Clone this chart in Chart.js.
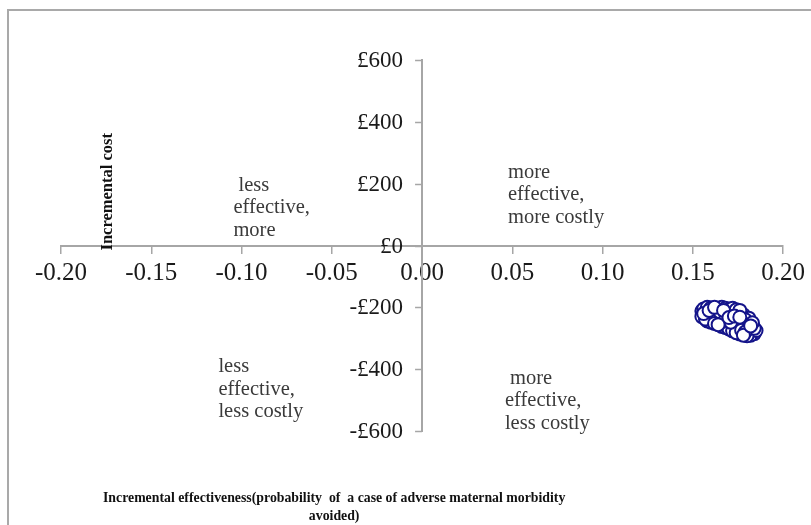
<!DOCTYPE html>
<html>
<head>
<meta charset="utf-8">
<script src="https://cdn.jsdelivr.net/npm/chart.js@4/dist/chart.umd.min.js"></script>
<style>
  body { margin: 0; background: #fff; }
  #frame { position: absolute; left: 7px; top: 9px; width: 900px; height: 600px; border: 2px solid #a9a9a9; }
  #myChart { position: absolute; left: 0; top: 0; }
</style>
</head>
<body>
<div id="frame"></div>
<canvas id="myChart" width="811" height="525"></canvas>
<script>
// incremental effectiveness / incremental cost pairs (bootstrap cloud, unsorted)
const effect = [0.155, 0.158, 0.161, 0.164, 0.166, 0.169, 0.172, 0.175, 0.178, 0.181,
  0.184, 0.157, 0.160, 0.163, 0.166, 0.168, 0.171, 0.174, 0.177, 0.180,
  0.183, 0.156, 0.159, 0.162, 0.165, 0.168, 0.170, 0.173, 0.176, 0.179,
  0.182, 0.155, 0.158, 0.161, 0.164, 0.167, 0.170, 0.172, 0.175, 0.178,
  0.181, 0.185, 0.158, 0.160, 0.163, 0.166, 0.169, 0.172, 0.174, 0.177,
  0.180, 0.184, 0.157, 0.160, 0.162, 0.165, 0.168, 0.171, 0.174, 0.176,
  0.179, 0.183, 0.156, 0.159, 0.162, 0.164, 0.167, 0.170, 0.173, 0.176,
  0.178, 0.182];
const cost = [-212, -226, -214, -204, -262, -255, -262, -218, -224, -235,
  -285, -212, -222, -210, -200, -265, -216, -255, -248, -252,
  -280, -205, -235, -228, -234, -203, -270, -242, -286, -240,
  -290, -230, -244, -238, -222, -226, -206, -276, -268, -262,
  -270, -275, -200, -248, -242, -246, -220, -203, -282, -274,
  -292, -268, -238, -202, -252, -215, -240, -248, -208, -210,
  -280, -250, -220, -210, -200, -256, -210, -233, -228, -232,
  -290, -260];

const xTicks = [-0.2, -0.15, -0.1, -0.05, 0, 0.05, 0.1, 0.15, 0.2];
const yTicks = [-600, -400, -200, 0, 200, 400, 600];

const quadrantLabels = [
  { x: -0.1045, y: 194, lines: [" less", "effective,", "more"] },
  { x: 0.0476, y: 236, lines: ["more", "effective,", "more costly"] },
  { x: -0.1128, y: -392, lines: ["less", "effective,", "less costly"] },
  { x: 0.0459, y: -430, lines: [" more", "effective,", "less costly"] },
];
const yTitle = "Incremental cost";
const xTitle = ["Incremental effectiveness(probability  of  a case of adverse maternal morbidity", "avoided)"];

const axisColor = "#a6a6a6";
const serif = "'Liberation Serif', 'Times New Roman', serif";

const points = effect.map((x, i) => ({ x, y: cost[i] }));

const textPlugin = {
  id: "quadrantText",
  afterDraw(chart) {
    const { ctx, scales, chartArea } = chart;
    const sx = scales.x, sy = scales.y;
    const axisX = sx.getPixelForValue(0);
    ctx.save();

    // y ticks and labels, left of the axis
    ctx.strokeStyle = axisColor;
    ctx.lineWidth = 1.5;
    ctx.fillStyle = "#1a1a1a";
    ctx.font = "23px " + serif;
    ctx.textAlign = "right";
    ctx.textBaseline = "middle";
    yTicks.forEach(v => {
      const py = Math.round(sy.getPixelForValue(v)) + 0.5;
      ctx.beginPath();
      ctx.moveTo(axisX - 7, py);
      ctx.lineTo(axisX, py);
      ctx.stroke();
      ctx.fillText(v < 0 ? "-£" + -v : "£" + v, axisX - 19, py);
    });

    ctx.fillStyle = "#3a3a3a";
    ctx.font = "20.5px " + serif;
    ctx.textAlign = "left";
    quadrantLabels.forEach(q => {
      const px = sx.getPixelForValue(q.x);
      const py = sy.getPixelForValue(q.y);
      q.lines.forEach((line, i) => ctx.fillText(line, px, py + i * 22.5));
    });

    // rotated cost title
    ctx.fillStyle = "#111";
    ctx.font = "bold 16.5px " + serif;
    ctx.translate(sx.getPixelForValue(-0.1742), sy.getPixelForValue(0) + 5);
    ctx.rotate(-Math.PI / 2);
    ctx.fillText(yTitle, 0, 0);
    ctx.restore();

    // bottom title
    ctx.save();
    ctx.fillStyle = "#111";
    ctx.font = "bold 13.8px " + serif;
    ctx.textAlign = "center";
    ctx.textBaseline = "middle";
    const cx = sx.getPixelForValue(-0.0487);
    xTitle.forEach((line, i) => ctx.fillText(line, cx, chartArea.bottom + 67 + i * 18));
    ctx.restore();
  },
};

const canvas = document.getElementById("myChart");
new Chart(canvas, {
  type: "scatter",
  data: {
    datasets: [
      {
        data: points,
        backgroundColor: "#ffffff",
        borderColor: "#14148a",
        borderWidth: 2,
        pointRadius: 6.5,
        pointHoverRadius: 6.5,
      },
    ],
  },
  options: {
    responsive: false,
    animation: false,
    layout: { padding: { left: 61, right: 27, top: 60, bottom: 94 } },
    scales: {
      x: {
        type: "linear",
        position: { y: 0 },
        min: -0.2,
        max: 0.2,
        afterBuildTicks: axis => { axis.ticks = xTicks.map(v => ({ value: v })); },
        ticks: {
          color: "#1a1a1a",
          font: { family: serif, size: 25 },
          padding: 6,
          maxRotation: 0,
          autoSkip: false,
          callback: v => (Math.abs(v) < 1e-9 ? 0 : v).toFixed(2),
        },
        grid: { display: true, drawOnChartArea: false, drawTicks: true, tickLength: 7, color: axisColor, lineWidth: 1.5 },
        border: { display: true, color: axisColor, width: 2 },
      },
      y: {
        type: "linear",
        position: { x: 0 },
        min: -600,
        max: 600,
        afterBuildTicks: axis => { axis.ticks = yTicks.map(v => ({ value: v })); },
        ticks: { display: false },
        grid: { display: false },
        border: { display: true, color: axisColor, width: 2 },
      },
    },
    plugins: {
      legend: { display: false },
      tooltip: { enabled: false },
    },
  },
  plugins: [textPlugin],
});
</script>
</body>
</html>
